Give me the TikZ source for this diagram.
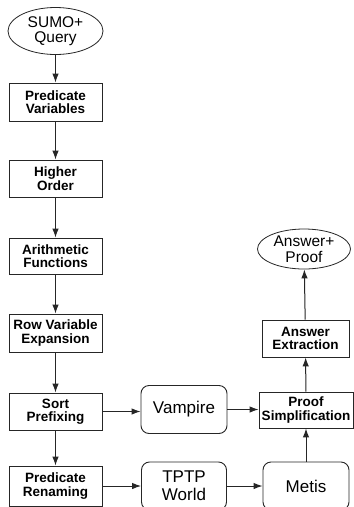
\documentclass[tikz,border=0pt]{standalone}
\usepackage{fontspec}
\setmainfont{Liberation Sans}
\usetikzlibrary{shapes.geometric,arrows.meta}
\begin{document}
\begin{tikzpicture}[x=1pt,y=-1pt,
  stepbox/.style={draw=black!85,line width=0.9pt,rectangle,inner sep=0pt,align=center,
     font=\fontsize{13.5}{13.5}\selectfont\bfseries},
  toolbox/.style={draw=black!85,line width=0.9pt,rectangle,rounded corners=8pt,inner sep=0pt,
     align=center,font=\fontsize{17}{18}\selectfont},
  endnode/.style={draw=black!85,line width=0.8pt,ellipse,inner sep=0pt,align=center,
     font=\fontsize{15.5}{15.5}\selectfont},
  conn/.style={draw=black!85,line width=1pt,-{Latex[length=9pt,width=6.5pt]}}]
\clip (0,0) rectangle (354,507);
\fill[white] (0,0) rectangle (354,507);
\node[endnode,minimum width=95pt,minimum height=47pt] (sumo) at (55.5,31) {SUMO+\\Query};
\node[stepbox,minimum width=93pt,minimum height=38pt] (pv) at (55.5,102) {Predicate\\Variables};
\node[stepbox,minimum width=93pt,minimum height=37pt] (ho) at (55.5,178.5) {Higher\\Order};
\node[stepbox,minimum width=93pt,minimum height=36pt] (af) at (55.5,256) {Arithmetic\\Functions};
\node[stepbox,minimum width=93pt,minimum height=38pt] (rve) at (55.5,333) {Row Variable\\Expansion};
\node[stepbox,minimum width=93pt,minimum height=37pt] (sp) at (55.5,411.5) {Sort\\Prefixing};
\node[stepbox,minimum width=93pt,minimum height=40pt] (pr) at (55.5,486) {Predicate\\Renaming};
\node[toolbox,minimum width=86pt,minimum height=48pt] (vamp) at (184,409.5) {Vampire};
\node[toolbox,minimum width=85pt,minimum height=48pt] (tptp) at (184,486) {TPTP\\World};
\node[toolbox,minimum width=86pt,minimum height=48pt] (metis) at (306,486) {Metis};
\node[stepbox,minimum width=94pt,minimum height=36pt] (ps) at (306,410) {Proof\\Simplification};
\node[stepbox,minimum width=87pt,minimum height=37pt] (ae) at (305.5,338.5) {Answer\\Extraction};
\node[endnode,minimum width=93pt,minimum height=40pt] (ap) at (304,249) {Answer+\\Proof};
\draw[conn] (sumo) -- (pv);
\draw[conn] (pv) -- (ho);
\draw[conn] (ho) -- (af);
\draw[conn] (af) -- (rve);
\draw[conn] (rve) -- (sp);
\draw[conn] (sp) -- (pr);
\draw[conn] (sp.east) -- (sp.east -| vamp.west);
\draw[conn] (vamp.east) -- (vamp.east -| ps.west);
\draw[conn] (pr.east) -- (pr.east -| tptp.west);
\draw[conn] (tptp) -- (metis);
\draw[conn] (metis) -- (ps);
\draw[conn] (ps) -- (ae);
\draw[conn] (ae) -- (ap);
\end{tikzpicture}
\end{document}
